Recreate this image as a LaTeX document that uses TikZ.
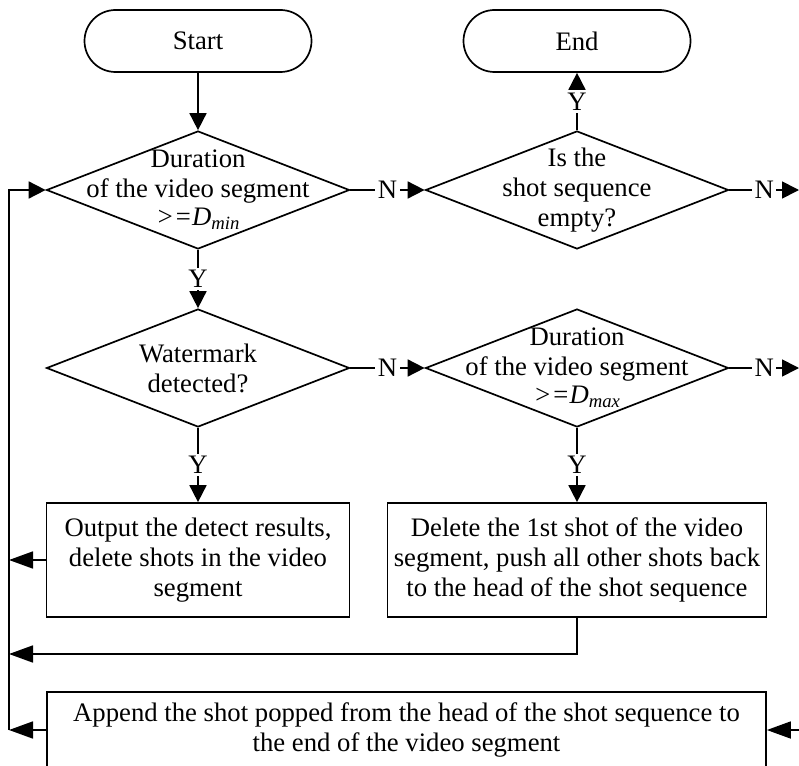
\documentclass[tikz,border=0pt]{standalone}
\usepackage{fontspec}
\setmainfont{Liberation Serif}
\usetikzlibrary{arrows.meta,shapes.geometric}
\begin{document}
\begin{tikzpicture}[x=1pt,y=-1pt,
  line width=1.7pt,
  font=\fontsize{26.7}{30}\selectfont,
  flow/.style={-{Triangle[length=17pt,width=17pt]}},
  longflow/.style={-{Triangle[length=24pt,width=17pt]}},
  term/.style={draw,rounded corners=31pt,minimum width=227pt,minimum height=62pt,inner sep=0pt},
  decision/.style={draw,diamond,minimum width=303pt,minimum height=118pt,inner sep=0pt},
  proc/.style={draw,rectangle,align=center,inner sep=0pt,minimum height=114pt},
  yn/.style={fill=white,inner sep=2.5pt},
  every label/.style={align=center,inner sep=0pt}
]
\useasboundingbox (0,0) rectangle (799,765);

% terminals
\node[term] (start) at (198,41) {Start};
\node[term] (end) at (577,41) {End};

% decisions
\node[decision,label={center:Duration\\of the video segment\\[-2pt]\textit{>=D}\textsubscript{\textit{min}}}] (dmin) at (198,190) {};
\node[decision,label={center:Is the\\shot sequence\\empty?}] (empty) at (577,190) {};
\node[decision,label={center:Watermark\\detected?}] (wm) at (198,368) {};
\node[decision,label={center:Duration\\of the video segment\\[-2pt]\textit{>=D}\textsubscript{\textit{max}}}] (dmax) at (577,368) {};

% processes
\node[proc,minimum width=303pt] (out) at (198,560)
  {Output the detect results,\\delete shots in the video\\segment};
\node[proc,minimum width=379pt] (del) at (577,560)
  {Delete the 1st shot of the video\\segment, push all other shots back\\to the head of the shot sequence};
\node[proc,minimum width=719pt,minimum height=76pt] (app) at (406.5,730)
  {Append the shot popped from the head of the shot sequence to\\the end of the video segment};

% rail and free ends
\coordinate (railtop) at (9,190);
\coordinate (railout) at (9,560);
\coordinate (railmid) at (9,654);
\coordinate (railbot) at (9,730);
\coordinate (exit1) at (799,190);
\coordinate (exit2) at (799,368);
\coordinate (entry) at (799,730);

% connectors
\draw[flow] (start) -- (dmin);
\draw[flow] (dmin) -- node[yn]{Y} (wm);
\draw[flow] (dmin) -- node[yn]{N} (empty);
\draw[flow] (empty) -- node[yn]{Y} (end);
\draw[flow] (empty) -- node[yn]{N} (exit1);
\draw[flow] (wm) -- node[yn]{N} (dmax);
\draw[flow] (dmax) -- node[yn]{N} (exit2);
\draw[flow] (wm) -- node[yn]{Y} (out);
\draw[flow] (dmax) -- node[yn]{Y} (del);
\draw[longflow] (out.west) -- (railout);
\draw[longflow] (del.south) |- (railmid);
\draw[longflow] (entry) -- (app.east);
\draw[longflow] (app.west) -- (railbot);
\draw[flow] (railbot) -- (railtop) -- (dmin.west);
\end{tikzpicture}
\end{document}
